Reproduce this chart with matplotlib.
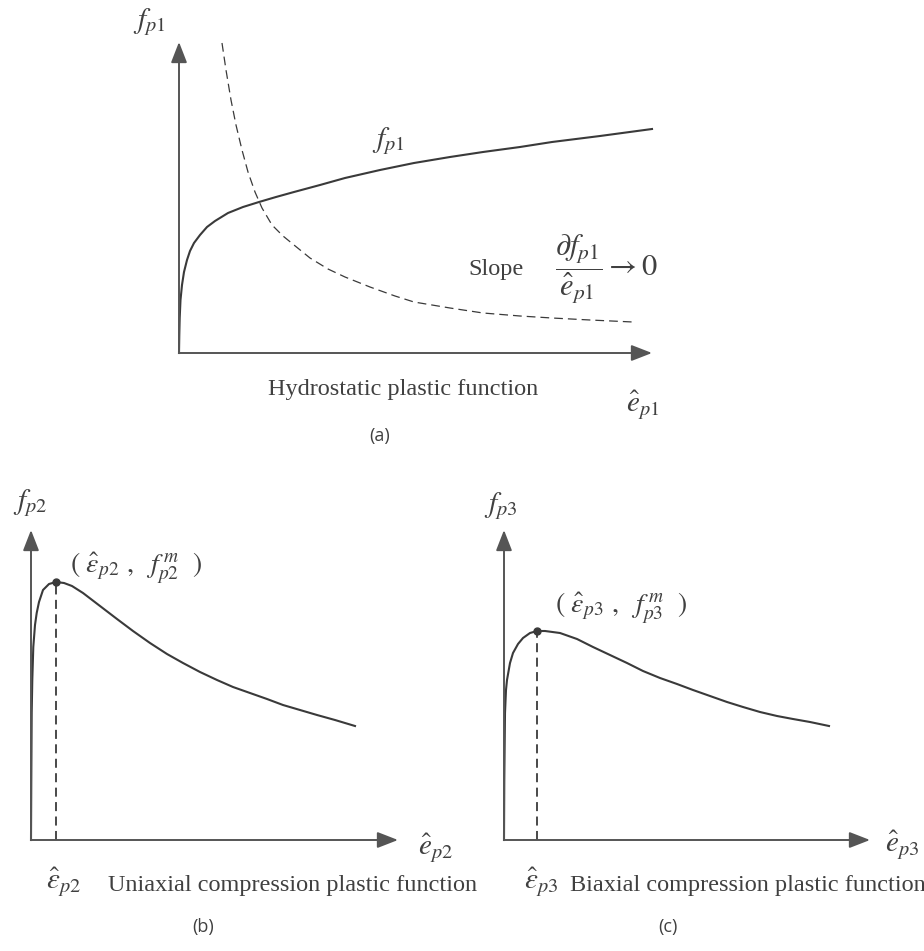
import matplotlib
matplotlib.use('Agg')
import matplotlib.pyplot as plt

plt.rcParams['font.family'] = ['Liberation Serif', 'DejaVu Serif']
plt.rcParams['mathtext.fontset'] = 'stix'

W, H = 924, 951
ink = '#3a3a3a'
axis_col = '#555555'
txt_col = '#404040'

# (a) hydrostatic plastic function, offsets from the axes origin
fp1_x = [0, 0.3, 0.7, 1.5, 3, 5, 8, 11, 15, 21, 28, 36, 49, 64, 80, 97, 115, 141,
         166, 201, 235, 271, 304, 341, 373, 421, 473]
fp1_y = [0, 18, 35, 53, 68, 81, 93, 102, 110, 118, 126, 132, 140, 146, 151, 156, 161,
         168, 175, 183, 190, 196, 201, 206, 211, 217, 224]
slope_x = [43, 47, 52, 57, 63, 69, 76, 83, 93, 104, 115, 131, 149, 166, 191, 216,
           235, 271, 304, 341, 373, 411, 454]
slope_y = [310, 283, 253, 228, 203, 181, 161, 145, 128, 117, 108, 95, 84, 76, 66, 57,
           51, 45, 40, 37, 35, 33, 31]

# (b) uniaxial compression plastic function
fp2_x = [0, 0.3, 0.7, 1.3, 2.3, 4, 5.7, 8, 12, 18, 25, 33, 41, 52, 69, 86, 102, 119,
         136, 152, 169, 186, 202, 219, 236, 252, 269, 286, 304, 324]
fp2_y = [0, 60, 127, 160, 193, 215, 227, 238, 250, 256, 258, 257, 254, 247, 234, 221,
         209, 197, 186, 177, 168, 160, 153, 147, 141, 135, 130, 125, 120, 114]
peak2 = (25, 258)

# (c) biaxial compression plastic function
fp3_x = [0, 0.3, 1, 2, 3, 6, 9, 14, 19, 26, 33, 41, 56, 73, 89, 106, 123, 139, 156,
         173, 189, 206, 223, 239, 256, 273, 289, 306, 325]
fp3_y = [0, 60, 127, 150, 160, 177, 187, 196, 202, 207, 209, 209, 207, 201, 193, 185,
         177, 169, 162, 156, 150, 144, 138, 133, 128, 124, 121, 118, 114]
peak3 = (33, 209)


def panel(fig, ox, oy, xlen, ylen):
    ax = fig.add_axes([ox / W, 1 - oy / H, xlen / W, ylen / H])
    ax.set_xlim(0, xlen)
    ax.set_ylim(0, ylen)
    ax.set_axis_off()
    arrow = dict(arrowstyle='-|>,head_length=0.9,head_width=0.35', color=axis_col,
                 lw=1.4, shrinkA=0, shrinkB=0, mutation_scale=14)
    ax.annotate('', xy=(xlen, 0), xytext=(0, 0), arrowprops=arrow, annotation_clip=False)
    ax.annotate('', xy=(0, ylen), xytext=(0, 0), arrowprops=arrow, annotation_clip=False)
    return ax


def label(ax, x, y, s, size=17.5, ha='center', family=None):
    kw = dict(fontsize=size, ha=ha, va='center', color=txt_col, clip_on=False)
    if family:
        kw['family'] = family
    ax.text(x, y, s, **kw)


fig = plt.figure(figsize=(W / 100, H / 100), dpi=100)

# (a)
ax = panel(fig, 179, 353, 473, 311)
ax.plot(fp1_x, fp1_y, color=ink, lw=1.5, clip_on=False)
ax.plot(slope_x, slope_y, color=ink, lw=0.9, dashes=(7, 4), clip_on=False)
label(ax, -30, 331, r'$f_{p1}$', 21)
label(ax, 464, -52, r'$\hat{e}_{p1}$', 21)
label(ax, 209, 212, r'$f_{p1}$', 21)
label(ax, 317, 84, 'Slope')
label(ax, 376, 84, r'$\dfrac{\partial f_{p1}}{\hat{e}_{p1}}\rightarrow 0$', 22, ha='left')
label(ax, 224, -37, 'Hydrostatic plastic function')
label(ax, 201, -83, '(a)', 13, family='Open Sans')

# (b)
ax = panel(fig, 31, 840, 367, 310)
ax.plot(fp2_x, fp2_y, color=ink, lw=1.5, clip_on=False)
ax.plot([peak2[0], peak2[0]], [0, peak2[1]], color=ink, lw=1.3, dashes=(5, 3))
ax.plot(*peak2, 'o', color=ink, ms=5)
label(ax, -1, 337, r'$f_{p2}$', 21)
label(ax, 405, -8, r'$\hat{e}_{p2}$', 21)
label(ax, 39, 272, r'$(\ \hat{\varepsilon}_{p2}\ ,\ \ f_{p2}^{\,m}\ \ )$', 20, ha='left')
label(ax, 33, -42, r'$\hat{\varepsilon}_{p2}$', 21)
label(ax, 77, -45, 'Uniaxial compression plastic function', ha='left')
label(ax, 172, -87, '(b)', 13, family='Open Sans')

# (c)
ax = panel(fig, 504, 840, 366, 310)
ax.plot(fp3_x, fp3_y, color=ink, lw=1.5, clip_on=False)
ax.plot([peak3[0], peak3[0]], [0, peak3[1]], color=ink, lw=1.3, dashes=(5, 3))
ax.plot(*peak3, 'o', color=ink, ms=5)
label(ax, -3, 334, r'$f_{p3}$', 21)
label(ax, 398, -5, r'$\hat{e}_{p3}$', 21)
label(ax, 51, 232, r'$(\ \hat{\varepsilon}_{p3}\ ,\ \ f_{p3}^{\,m}\ \ )$', 20, ha='left')
label(ax, 37, -42, r'$\hat{\varepsilon}_{p3}$', 21)
label(ax, 66, -45, 'Biaxial compression plastic function', ha='left')
label(ax, 164, -87, '(c)', 13, family='Open Sans')

fig.savefig('out.png', dpi=100)
